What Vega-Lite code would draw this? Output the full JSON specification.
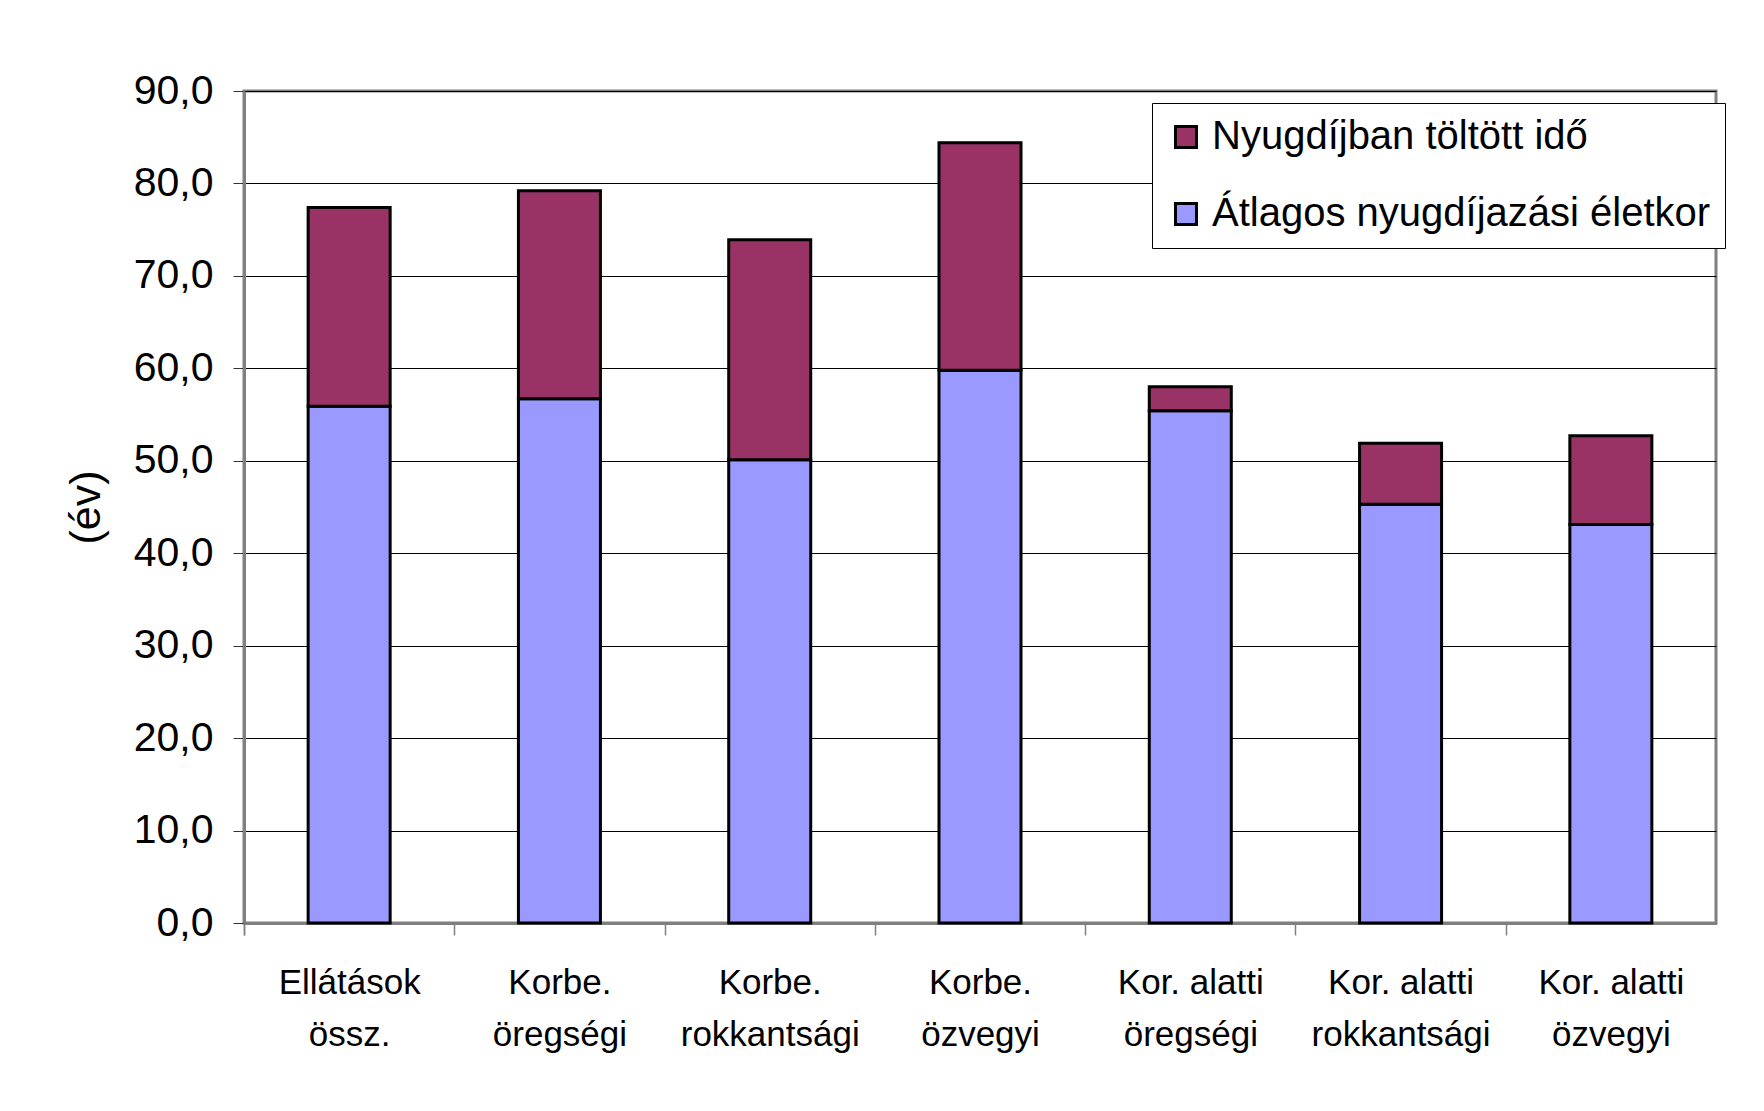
{
  "$schema": "https://vega.github.io/schema/vega-lite/v6.json",
  "width": 1472,
  "height": 832,
  "autosize": {"type": "none"},
  "padding": {"left": 244, "top": 91, "right": 48, "bottom": 188},
  "background": "white",
  "config": {
    "font": "Liberation Sans",
    "view": {"stroke": "#808080", "strokeWidth": 3},
    "axis": {"labelColor": "black", "titleColor": "black", "labelFont": "Liberation Sans", "titleFont": "Liberation Sans"}
  },
  "data": {
    "values": [
      {"kategoria": "Ellátások össz.", "sorozat": "Átlagos nyugdíjazási életkor", "ertek": 55.9},
      {"kategoria": "Ellátások össz.", "sorozat": "Nyugdíjban töltött idő", "ertek": 21.5},
      {"kategoria": "Korbe. öregségi", "sorozat": "Átlagos nyugdíjazási életkor", "ertek": 56.7},
      {"kategoria": "Korbe. öregségi", "sorozat": "Nyugdíjban töltött idő", "ertek": 22.5},
      {"kategoria": "Korbe. rokkantsági", "sorozat": "Átlagos nyugdíjazási életkor", "ertek": 50.1},
      {"kategoria": "Korbe. rokkantsági", "sorozat": "Nyugdíjban töltött idő", "ertek": 23.8},
      {"kategoria": "Korbe. özvegyi", "sorozat": "Átlagos nyugdíjazási életkor", "ertek": 59.8},
      {"kategoria": "Korbe. özvegyi", "sorozat": "Nyugdíjban töltött idő", "ertek": 24.6},
      {"kategoria": "Kor. alatti öregségi", "sorozat": "Átlagos nyugdíjazási életkor", "ertek": 55.4},
      {"kategoria": "Kor. alatti öregségi", "sorozat": "Nyugdíjban töltött idő", "ertek": 2.6},
      {"kategoria": "Kor. alatti rokkantsági", "sorozat": "Átlagos nyugdíjazási életkor", "ertek": 45.3},
      {"kategoria": "Kor. alatti rokkantsági", "sorozat": "Nyugdíjban töltött idő", "ertek": 6.6},
      {"kategoria": "Kor. alatti özvegyi", "sorozat": "Átlagos nyugdíjazási életkor", "ertek": 43.1},
      {"kategoria": "Kor. alatti özvegyi", "sorozat": "Nyugdíjban töltött idő", "ertek": 9.6}
    ]
  },
  "mark": {"type": "bar", "stroke": "black", "strokeWidth": 3},
  "encoding": {
    "x": {
      "field": "kategoria",
      "type": "nominal",
      "sort": null,
      "scale": {"paddingInner": 0.61, "paddingOuter": 0.305},
      "axis": {
        "title": null,
        "labelAngle": 0,
        "labelFontSize": 35,
        "labelLineHeight": 52,
        "labelPadding": 30,
        "labelOffset": 64.1,
        "labelExpr": "[substring(datum.label, 0, lastindexof(datum.label, ' ')), substring(datum.label, lastindexof(datum.label, ' ') + 1)]",
        "bandPosition": 0,
        "tickOffset": -64.1,
        "tickExtra": true,
        "tickSize": 12,
        "tickColor": "#808080",
        "tickWidth": 1.5,
        "domainColor": "#808080",
        "domainWidth": 3,
        "grid": false
      }
    },
    "y": {
      "field": "ertek",
      "type": "quantitative",
      "stack": "zero",
      "scale": {"domain": [0, 90], "nice": false},
      "axis": {
        "title": "(év)",
        "titleFontSize": 43,
        "titleFontWeight": "normal",
        "titleX": -158,
        "titleBaseline": "middle",
        "values": [0, 10, 20, 30, 40, 50, 60, 70, 80, 90],
        "labelExpr": "replace(format(datum.value, '.1f'), '.', ',')",
        "labelFontSize": 41,
        "labelPadding": 20,
        "tickSize": 11,
        "tickColor": "#333333",
        "tickWidth": 1,
        "domainColor": "#808080",
        "domainWidth": 3,
        "grid": true,
        "gridColor": "#000000",
        "gridWidth": 1
      }
    },
    "color": {
      "field": "sorozat",
      "type": "nominal",
      "scale": {
        "domain": ["Nyugdíjban töltött idő", "Átlagos nyugdíjazási életkor"],
        "range": ["#993366", "#9999FF"]
      },
      "legend": {
        "title": null,
        "orient": "none",
        "legendX": 908,
        "legendY": 12,
        "labelFontSize": 40,
        "labelColor": "black",
        "labelLimit": 800,
        "symbolType": "square",
        "symbolSize": 440,
        "symbolStrokeColor": "black",
        "symbolStrokeWidth": 3,
        "strokeColor": "black",
        "fillColor": "white",
        "padding": 14,
        "rowPadding": 37,
        "labelOffset": 6
      }
    },
    "order": {"field": "sorozat", "sort": "descending"}
  }
}
